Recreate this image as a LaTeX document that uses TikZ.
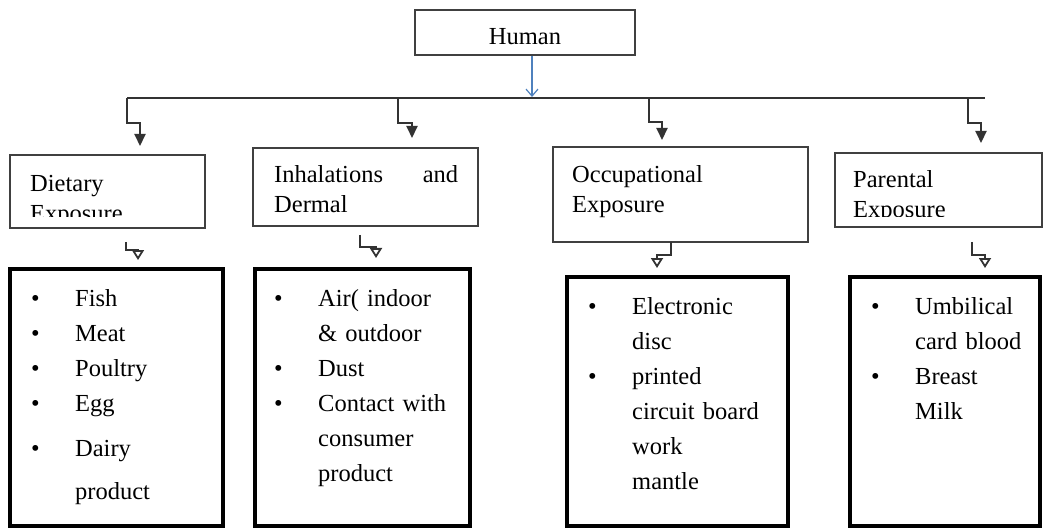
\documentclass[tikz,border=0pt]{standalone}
\usepackage{fontspec}
\setmainfont{Liberation Serif}
\usepackage{tikz}
\usetikzlibrary{arrows.meta}

\newcommand{\bulitem}{\makebox[44pt][l]{\textbullet}}
\newcommand{\contline}{\hspace*{44pt}}

\begin{document}
\begin{tikzpicture}[x=1pt, y=-1pt,
    hdr/.style={draw=black!75, line width=1.5pt, rectangle, inner sep=0pt},
    lst/.style={draw=black, line width=4pt, rectangle, inner sep=0pt},
    hdrtxt/.style={anchor=base west, inner sep=0pt, text width=200pt, align=left,
        font=\fontsize{24.5}{29.5}\selectfont},
    listtxt/.style={anchor=base west, inner sep=0pt, text width=200pt, align=left,
        font=\fontsize{24.5}{35}\selectfont},
    bus/.style={draw=black!80, line width=2pt},
    branch/.style={bus, -{Triangle[length=12pt, width=11pt]}},
    small/.style={draw=black!80, line width=1.8pt, -{Triangle[open, length=10pt, width=12pt]}},
    feed/.style={draw={rgb,255:red,79;green,129;blue,189}, line width=1.2pt,
        -{Straight Barb[length=7pt, width=12pt]}}]
                \useasboundingbox (0,0) rectangle (1043,529);
                % top
                \node[hdr, minimum width=220pt, minimum height=45pt] (human) at (525,32.5) {};
                \node[anchor=base, inner sep=0pt, font=\fontsize{24.5}{29.5}\selectfont] (humantxt) at (525,45) {Human};
                \coordinate (bl) at (127,98);
                \coordinate (br) at (985,98);
                \coordinate (hb) at (532,97);
                \coordinate (b2) at (398,98);
                \coordinate (b3) at (649,98);
                \coordinate (b4) at (968,98);
                \draw[feed] ([xshift=7pt]human.south) -- (hb);
                \draw[bus] (bl) -- (br);
                \draw[branch] (bl) |- ++(13,25) -- ++(0,23);
                \draw[branch] (b2) |- ++(14,25) -- ++(0,15);
                \draw[branch] (b3) |- ++(13,24) -- ++(0,18);
                \draw[branch] (b4) |- ++(13,25) -- ++(0,20);
                % exposure boxes
                \node[hdr, minimum width=195pt, minimum height=73pt] (diet) at (107.5,191.5) {};
                \node[hdr, minimum width=225pt, minimum height=78pt] (inhal) at (365.5,187) {};
                \node[hdr, minimum width=255pt, minimum height=95pt] (occup) at (680.5,194.5) {};
                \node[hdr, minimum width=207pt, minimum height=74pt] (paren) at (938.5,190) {};
                \begin{scope}
                    \clip (0,150) rectangle (240,217);
                    \node[hdrtxt] (diettxt) at (30,192) {Dietary\\Exposure};
                \end{scope}
                \node[hdrtxt, text width=184pt] (inhaltxt) at (274,183) {Inhalations\hfill and\\Dermal};
                \node[hdrtxt] (occuptxt) at (572,183) {Occupational\\Exposure};
                \begin{scope}
                    \clip (840,150) rectangle (1040,217);
                    \node[hdrtxt] (parentxt) at (853,188) {Parental\\Exposure};
                \end{scope}
                % small connectors
                \coordinate (s1) at (126,242);
                \coordinate (s2) at (360,235);
                \coordinate (s3) at (671,242);
                \coordinate (s4) at (972,242);
                \draw[small] (s1) |- ++(12,8) -- ++(0,10);
                \draw[small] (s2) |- ++(16,12) -- ++(0,11);
                \draw[small] (s3) |- ++(-14,13) -- ++(0,13);
                \draw[small] (s4) |- ++(13,13) -- ++(0,13);
                % lists
                \node[lst, minimum width=213pt, minimum height=257pt] (dietlist) at (116.5,397.5) {};
                \node[lst, minimum width=215pt, minimum height=257pt] (inhallist) at (362.5,397.5) {};
                \node[lst, minimum width=221pt, minimum height=249pt] (occuplist) at (677.5,401.5) {};
                \node[lst, minimum width=190pt, minimum height=249pt] (parenlist) at (945,401.5) {};
                \node[listtxt] (dietitems) at (31,306)
                    {\bulitem Fish\\\bulitem Meat\\\bulitem Poultry\\\bulitem Egg\\[10.5pt]\bulitem Dairy\\[8pt]\contline product};
                \node[listtxt] (inhalitems) at (274,306)
                    {\bulitem Air( indoor\\\contline \& outdoor\\\bulitem Dust\\\bulitem Contact with\\\contline consumer\\\contline product};
                \node[listtxt] (occupitems) at (588,314)
                    {\bulitem Electronic\\\contline disc\\\bulitem printed\\\contline circuit board\\\contline work\\\contline mantle};
                \node[listtxt] (parenitems) at (871,314)
                    {\bulitem Umbilical\\\contline card blood\\\bulitem Breast\\\contline Milk};
            \end{tikzpicture}
\end{document}
